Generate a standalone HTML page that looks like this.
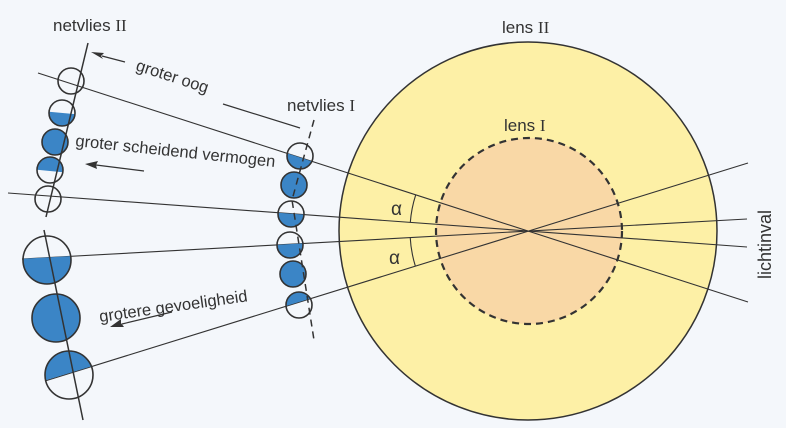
<!DOCTYPE html>
<html><head><meta charset="utf-8"><style>
html,body{margin:0;padding:0;background:#f4f7fb;}
svg{display:block;}
text{font-family:"Liberation Sans",sans-serif;fill:#333;}
</style></head><body>
<svg width="786" height="428" viewBox="0 0 786 428" xmlns="http://www.w3.org/2000/svg">
<defs>
<clipPath id="c1"><circle cx="62" cy="113" r="13"/></clipPath>
<clipPath id="c2"><circle cx="50" cy="170" r="13"/></clipPath>
<clipPath id="c3"><circle cx="47" cy="260" r="24"/></clipPath>
<clipPath id="c4"><circle cx="69" cy="375" r="24"/></clipPath>
<clipPath id="d1"><circle cx="300" cy="156" r="13"/></clipPath>
<clipPath id="d3"><circle cx="291" cy="214" r="13"/></clipPath>
<clipPath id="d4"><circle cx="290" cy="245" r="13"/></clipPath>
<clipPath id="d6"><circle cx="299" cy="305" r="13"/></clipPath>
</defs>
<rect width="786" height="428" fill="#f4f7fb"/>
<circle cx="528" cy="231" r="189" fill="#fdf0a6" stroke="#333" stroke-width="1.5"/>
<circle cx="529" cy="231" r="93" fill="#f9d8a6" stroke="#333" stroke-width="2.2" stroke-dasharray="7,5"/>
<g stroke="#333" stroke-width="1.1" fill="none">
<line x1="38" y1="73" x2="748" y2="302"/>
<line x1="8" y1="193" x2="747" y2="247"/>
<line x1="22" y1="259" x2="747" y2="219"/>
<line x1="45" y1="381" x2="748" y2="163"/>
<path d="M415.7,194.9 A118,118 0 0 0 410.3,222.4"/>
<path d="M410.2,237.4 A118,118 0 0 0 415.3,265.9"/>
</g>
<g fill="#3b85c6">
<polygon points="40,111 85,115 85,140 40,140" clip-path="url(#c1)"/>
<circle cx="55" cy="142" r="13"/>
<polygon points="30,150 70,150 70,173 30,169" clip-path="url(#c2)"/>
<polygon points="20,258.9 75,255.9 75,290 20,290" clip-path="url(#c3)"/>
<circle cx="56" cy="318" r="24"/>
<polygon points="40,382 100,363.7 100,340 40,340" clip-path="url(#c4)"/>
<polygon points="280,151 320,164 320,175 280,175" clip-path="url(#d1)"/>
<circle cx="294" cy="185" r="13"/>
<polygon points="270,212.2 310,215 310,230 270,230" clip-path="url(#d3)"/>
<polygon points="270,245.2 310,243 310,260 270,260" clip-path="url(#d4)"/>
<circle cx="293" cy="274" r="13"/>
<polygon points="280,307.9 320,295.5 320,290 280,290" clip-path="url(#d6)"/>
</g>
<g fill="none" stroke="#333" stroke-width="1.6">
<circle cx="71" cy="81" r="13"/><circle cx="62" cy="113" r="13"/><circle cx="55" cy="142" r="13"/>
<circle cx="50" cy="170" r="13"/><circle cx="48" cy="199" r="13"/>
<circle cx="47" cy="260" r="24"/><circle cx="56" cy="318" r="24"/><circle cx="69" cy="375" r="24"/>
<circle cx="300" cy="156" r="13"/><circle cx="294" cy="185" r="13"/><circle cx="291" cy="214" r="13"/>
<circle cx="290" cy="245" r="13"/><circle cx="293" cy="274" r="13"/><circle cx="299" cy="305" r="13"/>
</g>
<g stroke="#333" stroke-width="1.5" fill="none">
<line x1="88" y1="43" x2="46" y2="217"/>
<line x1="44" y1="230" x2="83" y2="420"/>
<polyline points="314,120 292,200 314,340" stroke-dasharray="7,5"/>
</g>
<g stroke="#333" stroke-width="1.2">
<line x1="125" y1="62" x2="102" y2="56"/>
<line x1="223" y1="104" x2="300" y2="128"/>
<line x1="144" y1="171" x2="96" y2="165"/>
<line x1="172" y1="312" x2="122" y2="324"/>
</g>
<path d="M91,52 L104,53 L101,56 L103,59 Z" fill="#333"/>
<path d="M85,164 L98,161 L96,165 L97,169 Z" fill="#333"/>
<path d="M110,327 L121,319 L121,323 L124,327 Z" fill="#333"/>
<text x="53" y="31" font-size="17">netvlies <tspan font-family="Liberation Serif">II</tspan></text>
<text x="287" y="111" font-size="17">netvlies <tspan font-family="Liberation Serif">I</tspan></text>
<text x="502" y="33" font-size="17">lens <tspan font-family="Liberation Serif">II</tspan></text>
<text x="504" y="131" font-size="17">lens <tspan font-family="Liberation Serif">I</tspan></text>
<text x="391" y="215" font-size="19" font-family="Liberation Serif">α</text>
<text x="389" y="264" font-size="19" font-family="Liberation Serif">α</text>
<text font-size="16.5" transform="translate(135,70) rotate(18)">groter oog</text>
<text font-size="16.5" transform="translate(75,146) rotate(6)">groter scheidend vermogen</text>
<text font-size="16.5" transform="translate(100,322) rotate(-8)">grotere gevoeligheid</text>
<text font-size="18" transform="translate(771,279) rotate(-90)">lichtinval</text>
</svg>
</body></html>
